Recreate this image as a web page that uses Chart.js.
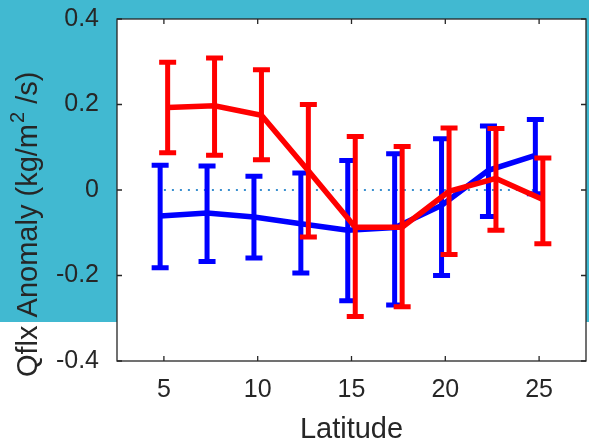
<!DOCTYPE html>
<html>
<head>
<meta charset="utf-8">
<script src="https://cdn.jsdelivr.net/npm/chart.js@4.4.1/dist/chart.umd.min.js"></script>
<style>
  html, body { margin: 0; padding: 0; }
  #wrap {
    width: 589px;
    height: 448px;
    background: linear-gradient(to bottom, #41b9d1 0, #41b9d1 322px, #ffffff 322px);
  }
</style>
</head>
<body>
<div id="wrap"><canvas id="chart" width="589" height="448"></canvas></div>
<script>
// Latitudes of the bins; blue and red are drawn a little to each side of them
const latitudes = [5, 7.5, 10, 12.5, 15, 17.5, 20, 22.5, 25];
const blueShift = -0.2;
const redShift = 0.2;

// blue series: mean, upper and lower ends of the error bars
const blueMean = [-0.061, -0.054, -0.063, -0.079, -0.094, -0.088, -0.036, 0.046, 0.081];
const blueHigh = [0.058, 0.056, 0.032, 0.040, 0.069, 0.085, 0.120, 0.150, 0.165];
const blueLow = [-0.182, -0.167, -0.159, -0.194, -0.259, -0.269, -0.200, -0.062, -0.009];

// red series
const redMean = [0.193, 0.197, 0.175, 0.045, -0.087, -0.087, -0.003, 0.027, -0.022];
const redHigh = [0.299, 0.309, 0.281, 0.200, 0.125, 0.102, 0.145, 0.144, 0.075];
const redLow = [0.087, 0.081, 0.071, -0.110, -0.296, -0.273, -0.151, -0.094, -0.126];

// dotted zero reference line
const zeroLineX = [5, 25];
const zeroLineY = [0, 0];

const xTicks = [5, 10, 15, 20, 25];
const xTickLabels = ['5', '10', '15', '20', '25'];
const yTicks = [-0.4, -0.2, 0, 0.2, 0.4];
const yTickLabels = ['-0.4', '-0.2', '0', '0.2', '0.4'];

const textColor = '#262626';
const fontFamily = '"Liberation Sans", Arial, Helvetica, sans-serif';

function toPoints(xs, ys, shift) {
    return xs.map((x, i) => ({ x: x + shift, y: ys[i] }));
}

// white plot background
const plotBackground = {
    id: 'plotBackground',
    beforeDraw(chart) {
        const { ctx, chartArea } = chart;
        ctx.save();
        ctx.fillStyle = '#ffffff';
        ctx.fillRect(chartArea.left, chartArea.top, chartArea.right - chartArea.left, chartArea.bottom - chartArea.top);
        ctx.restore();
    }
};

// box around the axes with ticks pointing inward (all four sides)
const axesBox = {
    id: 'axesBox',
    beforeDatasetsDraw(chart) {
        const { ctx, chartArea, scales } = chart;
        const len = 5;
        ctx.save();
        ctx.strokeStyle = textColor;
        ctx.lineWidth = 1.3;
        ctx.strokeRect(chartArea.left, chartArea.top, chartArea.right - chartArea.left, chartArea.bottom - chartArea.top);
        ctx.beginPath();
        xTicks.forEach(v => {
            const px = scales.x.getPixelForValue(v);
            ctx.moveTo(px, chartArea.bottom);
            ctx.lineTo(px, chartArea.bottom - len);
            ctx.moveTo(px, chartArea.top);
            ctx.lineTo(px, chartArea.top + len);
        });
        yTicks.forEach(v => {
            const py = scales.y.getPixelForValue(v);
            ctx.moveTo(chartArea.left, py);
            ctx.lineTo(chartArea.left + len, py);
            ctx.moveTo(chartArea.right, py);
            ctx.lineTo(chartArea.right - len, py);
        });
        ctx.stroke();
        ctx.restore();
    }
};

// vertical error bars with caps, drawn right after their own line
const errorBars = {
    id: 'errorBars',
    afterDatasetDraw(chart, args) {
        const ds = chart.data.datasets[args.index];
        if (!ds.errHigh) return;
        const { ctx, scales } = chart;
        const cap = 8.5;
        ctx.save();
        ctx.strokeStyle = ds.borderColor;
        ctx.lineWidth = 5;
        ctx.lineCap = 'butt';
        ctx.beginPath();
        ds.data.forEach((p, i) => {
            const px = scales.x.getPixelForValue(p.x);
            const top = scales.y.getPixelForValue(ds.errHigh[i]);
            const bottom = scales.y.getPixelForValue(ds.errLow[i]);
            ctx.moveTo(px, top);
            ctx.lineTo(px, bottom);
            ctx.moveTo(px - cap, top);
            ctx.lineTo(px + cap, top);
            ctx.moveTo(px - cap, bottom);
            ctx.lineTo(px + cap, bottom);
        });
        ctx.stroke();
        ctx.restore();
    }
};

// y label with a real superscript
const yLabel = {
    id: 'yLabel',
    afterDraw(chart) {
        const { ctx, chartArea } = chart;
        const main = 'Qflx Anomaly (kg/m';
        const sup = '2';
        const tail = ' /s)';
        ctx.save();
        ctx.translate(chartArea.left - 80, chartArea.bottom + 16);
        ctx.rotate(-Math.PI / 2);
        ctx.fillStyle = textColor;
        ctx.textBaseline = 'alphabetic';
        ctx.textAlign = 'left';
        ctx.font = '29px ' + fontFamily;
        ctx.fillText(main, 0, 0);
        let x = ctx.measureText(main).width;
        ctx.font = '20px ' + fontFamily;
        ctx.fillText(sup, x + 1, -13);
        x += ctx.measureText(sup).width + 1;
        ctx.font = '29px ' + fontFamily;
        ctx.fillText(tail, x, 0);
        ctx.restore();
    }
};

new Chart(document.getElementById('chart'), {
    type: 'line',
    data: {
        datasets: [
            {
                label: 'red',
                data: toPoints(latitudes, redMean, redShift),
                errHigh: redHigh,
                errLow: redLow,
                borderColor: '#ff0000',
                borderWidth: 5.5,
                borderJoinStyle: 'miter',
                pointRadius: 0,
                tension: 0
            },
            {
                label: 'blue',
                data: toPoints(latitudes, blueMean, blueShift),
                errHigh: blueHigh,
                errLow: blueLow,
                borderColor: '#0000ff',
                borderWidth: 5.5,
                borderJoinStyle: 'miter',
                pointRadius: 0,
                tension: 0
            },
            {
                label: 'zero',
                data: toPoints(zeroLineX, zeroLineY, 0),
                borderColor: '#3a90d0',
                borderWidth: 2,
                borderDash: [2, 6],
                pointRadius: 0
            }
        ]
    },
    options: {
        responsive: false,
        animation: false,
        devicePixelRatio: 1,
        layout: { padding: { top: 19, right: 3, left: 0, bottom: 0 } },
        plugins: {
            legend: { display: false },
            tooltip: { enabled: false }
        },
        scales: {
            x: {
                type: 'linear',
                min: 2.5,
                max: 27.5,
                afterBuildTicks: scale => { scale.ticks = xTicks.map(v => ({ value: v })); },
                afterFit: scale => {
                    scale.height = 87;
                    scale.paddingLeft = 0;
                    scale.paddingRight = 0;
                },
                grid: { display: false, drawTicks: false },
                border: { display: false },
                ticks: {
                    autoSkip: false,
                    maxRotation: 0,
                    padding: 14,
                    color: textColor,
                    font: { family: fontFamily, size: 25 },
                    callback: v => xTickLabels[xTicks.indexOf(v)]
                },
                title: {
                    display: true,
                    text: 'Latitude',
                    color: textColor,
                    font: { family: fontFamily, size: 29 },
                    padding: { top: 0, bottom: 1 }
                }
            },
            y: {
                min: -0.4,
                max: 0.4,
                afterBuildTicks: scale => { scale.ticks = yTicks.map(v => ({ value: v })); },
                afterFit: scale => {
                    scale.width = 117;
                    scale.paddingTop = 0;
                    scale.paddingBottom = 0;
                },
                grid: { display: false, drawTicks: false },
                border: { display: false },
                ticks: {
                    autoSkip: false,
                    padding: 18,
                    color: textColor,
                    font: { family: fontFamily, size: 25 },
                    callback: v => yTickLabels[yTicks.indexOf(v)]
                }
            }
        }
    },
    plugins: [plotBackground, axesBox, errorBars, yLabel]
});
</script>
</body>
</html>
